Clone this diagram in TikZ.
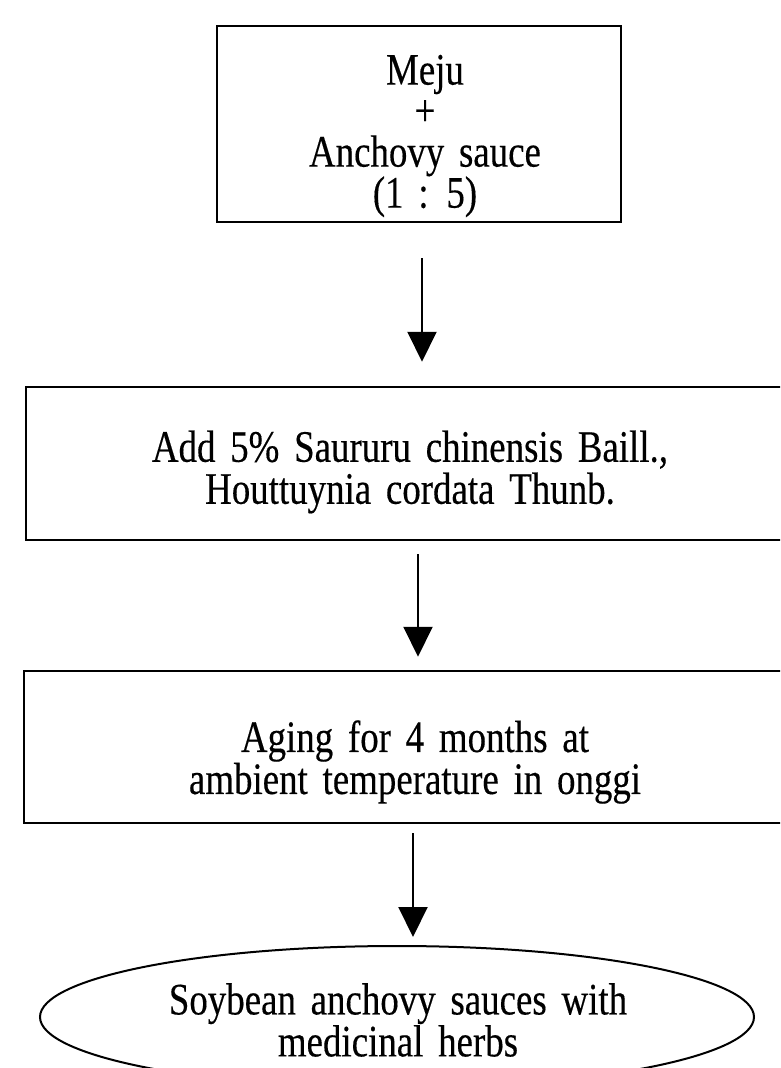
\documentclass[tikz,border=0pt]{standalone}
\usepackage{fontspec}
\setmainfont{Liberation Serif}[FakeStretch=0.82,WordSpace=1.6,FakeBold=0.3]
\usetikzlibrary{arrows.meta,shapes.geometric}
\begin{document}
\begin{tikzpicture}[x=1pt,y=-1pt,
  box/.style={draw, line width=2.5pt, inner sep=0pt},
  lbl/.style={align=center, inner sep=0pt},
  arr/.style={line width=2pt, -{Triangle[width=29pt,length=30pt]}}]
\path[use as bounding box, clip] (0,0) rectangle (780,1068);
\fill[white] (0,0) rectangle (780,1068);
% boxes
\node[box, minimum width=404pt, minimum height=196pt] (b1) at (419,124) {};
\node[box, minimum width=784pt, minimum height=153pt] (b2) at (418,463.5) {};
\node[box, minimum width=778pt, minimum height=152pt] (b3) at (413,747) {};
\node[draw, ellipse, line width=2pt, inner sep=0pt, minimum width=714pt, minimum height=142pt] (ell) at (397,1017) {};
% texts
\node[lbl, font=\fontsize{45}{41}\selectfont] (t1) at (425,136) {Meju\\+\\Anchovy sauce\\(1 : 5)};
\node[lbl, font=\fontsize{45}{42}\selectfont] (t2) at (410,472) {Add 5\% Saururu chinensis Baill.,\\Houttuynia cordata Thunb.};
\node[lbl, font=\fontsize{45}{42}\selectfont] (t3) at (415,762) {Aging for 4 months at\\ambient temperature in onggi};
\node[lbl, font=\fontsize{45}{40}\selectfont] (t4) at (398,1020) {Soybean anchovy sauces with\\medicinal herbs};
% connectors
\draw[arr, shorten <=35pt, shorten >=24pt] ([xshift=3pt]b1.south) -- ([xshift=3pt]b1.south |- b2.north);
\draw[arr, shorten <=13pt, shorten >=13pt] (b2.south) -- (b2.south |- b3.north);
\draw[arr, shorten <=9pt, shorten >=8pt] (b3.south) -- (b3.south |- ell.north);
\end{tikzpicture}
\end{document}
